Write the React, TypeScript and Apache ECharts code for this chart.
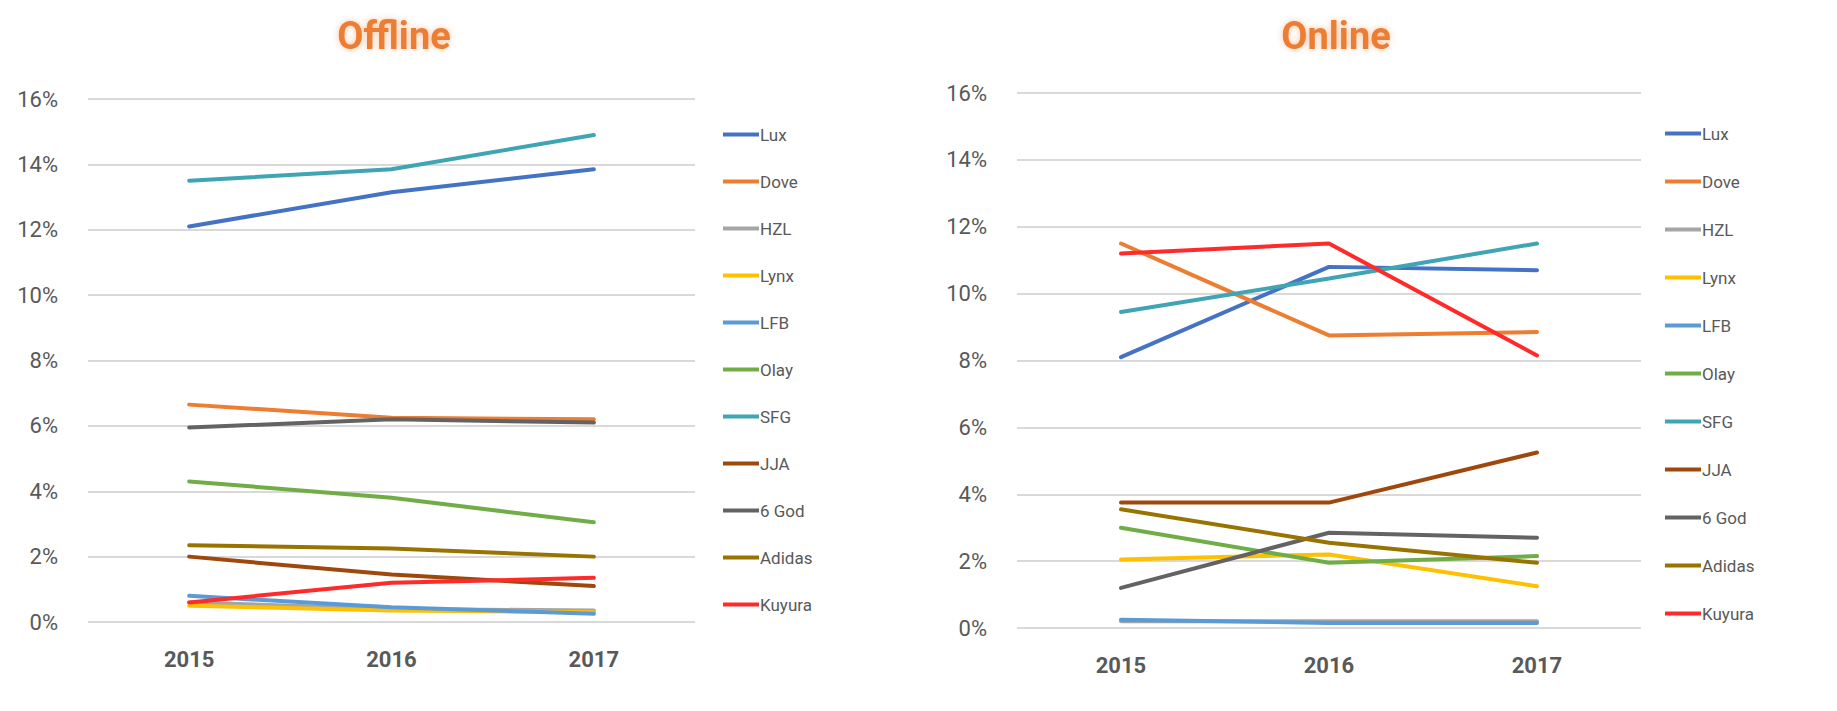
import React, { useEffect, useRef } from 'react';
import * as echarts from 'echarts';

const years = ['2015', '2016', '2017'];
const brands = ['Lux', 'Dove', 'HZL', 'Lynx', 'LFB', 'Olay', 'SFG', 'JJA', '6 God', 'Adidas', 'Kuyura'];
const colors = ['#4472C4', '#ED7D31', '#A5A5A5', '#FFC000', '#5B9BD5', '#70AD47', '#3FA4B4', '#9E480E', '#636363', '#997300', '#FF2A2A'];
const yTicks = [0, 0.02, 0.04, 0.06, 0.08, 0.1, 0.12, 0.14, 0.16];

// percent values, one row per brand, in the order of brands
const offline = [
  [12.1, 13.15, 13.85],
  [6.65, 6.25, 6.2],
  [0.6, 0.4, 0.35],
  [0.5, 0.35, 0.3],
  [0.8, 0.45, 0.25],
  [4.3, 3.8, 3.05],
  [13.5, 13.85, 14.9],
  [2.0, 1.45, 1.1],
  [5.95, 6.2, 6.1],
  [2.35, 2.25, 2.0],
  [0.6, 1.2, 1.35],
];
const online = [
  [8.1, 10.8, 10.7],
  [11.5, 8.75, 8.85],
  [0.2, 0.2, 0.2],
  [2.05, 2.2, 1.25],
  [0.25, 0.15, 0.15],
  [3.0, 1.95, 2.15],
  [9.45, 10.45, 11.5],
  [3.75, 3.75, 5.25],
  [1.2, 2.85, 2.7],
  [3.55, 2.55, 1.95],
  [11.2, 11.5, 8.15],
];

const font = "'Liberation Sans Narrow', 'Roboto', sans-serif";

const App: React.FC = () => {
  const chartRef = useRef<HTMLDivElement>(null);

  useEffect(() => {
    if (!chartRef.current) return;
    const chart = echarts.init(chartRef.current, undefined, { renderer: 'svg' });

    const axisX = (gridIndex: number) => ({
      type: 'category',
      gridIndex,
      data: years,
      boundaryGap: true,
      axisLine: { show: false },
      axisTick: { show: false },
      axisLabel: { fontSize: 22, fontWeight: 'bold', color: '#595959', fontFamily: font, margin: 26 },
    });
    const axisY = (gridIndex: number) => ({
      type: 'value',
      gridIndex,
      min: 0,
      max: yTicks[yTicks.length - 1],
      interval: 0.02,
      axisLine: { show: false },
      axisTick: { show: false },
      splitLine: { lineStyle: { color: '#D9D9D9', width: 2 } },
      axisLabel: {
        fontSize: 22,
        color: '#595959',
        fontFamily: font,
        margin: 30,
        formatter: (v: number) => Math.round(v * 100) + '%',
      },
    });
    const makeSeries = (rows: number[][], idx: number) =>
      rows.map((r, i) => ({
        name: brands[i],
        type: 'line',
        xAxisIndex: idx,
        yAxisIndex: idx,
        data: r.map(v => v / 100),
        showSymbol: false,
        lineStyle: { width: 4, color: colors[i], cap: 'round' },
        itemStyle: { color: colors[i] },
      }));
    const legend = (left: number, top: number, gap: number) => ({
      orient: 'vertical',
      left,
      top,
      data: brands,
      icon: 'rect',
      itemWidth: 36,
      itemHeight: 4,
      itemGap: gap,
      textStyle: { fontSize: 17, color: '#595959', fontFamily: font, padding: [0, 0, 0, -4] },
    });
    const title = (text: string, left: number) => ({
      text,
      left,
      top: 12,
      textAlign: 'center',
      textStyle: {
        fontSize: 38,
        fontWeight: 'bold',
        color: '#ED7D31',
        fontFamily: font,
        textShadowColor: 'rgba(237,125,49,0.45)',
        textShadowBlur: 6,
      },
    });

    chart.setOption({
      animation: false,
      color: colors,
      title: [title('Offline', 389), title('Online', 1331)],
      legend: [legend(718, 121, 30), legend(1660, 120, 31)],
      grid: [
        { left: 88, right: 1142, top: 99, bottom: 89 },
        { left: 1017, right: 196, top: 93, bottom: 83 },
      ],
      xAxis: [axisX(0), axisX(1)],
      yAxis: [axisY(0), axisY(1)],
      series: [...makeSeries(offline, 0), ...makeSeries(online, 1)],
    });

    return () => chart.dispose();
  }, []);

  return (
    <div
      ref={chartRef}
      style={{ position: 'absolute', left: 0, top: 0, width: 1837, height: 711, background: '#fff' }}
    />
  );
};

export default App;
